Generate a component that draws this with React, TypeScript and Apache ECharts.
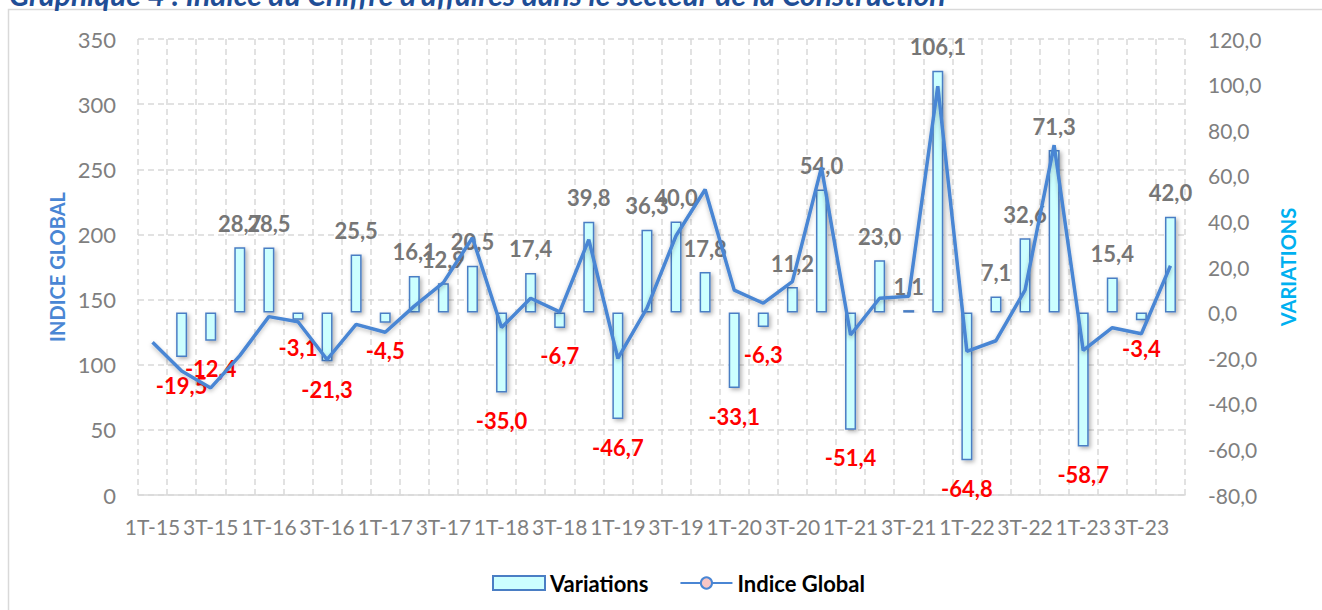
import React, { useEffect, useRef } from "react";
import * as echarts from "echarts";

const categories = [
  "1T-15", "2T-15", "3T-15", "4T-15",
  "1T-16", "2T-16", "3T-16", "4T-16",
  "1T-17", "2T-17", "3T-17", "4T-17",
  "1T-18", "2T-18", "3T-18", "4T-18",
  "1T-19", "2T-19", "3T-19", "4T-19",
  "1T-20", "2T-20", "3T-20", "4T-20",
  "1T-21", "2T-21", "3T-21", "4T-21",
  "1T-22", "2T-22", "3T-22", "4T-22",
  "1T-23", "2T-23", "3T-23", "4T-23",
];

const variations: (number | null)[] = [
  null, -19.5, -12.4, 28.7, 28.5, -3.1, -21.3, 25.5, -4.5, 16.1, 12.9, 20.5,
  -35.0, 17.4, -6.7, 39.8, -46.7, 36.3, 40.0, 17.8, -33.1, -6.3, 11.2, 54.0,
  -51.4, 23.0, 1.1, 106.1, -64.8, 7.1, 32.6, 71.3, -58.7, 15.4, -3.4, 42.0,
];

const indiceGlobal = [
  117.2, 95.2, 82.2, 107.0, 136.9, 133.0, 104.0, 131.0, 124.9, 145.0, 163.0, 197.5,
  128.5, 151.0, 140.6, 196.0, 104.8, 143.5, 199.0, 234.5, 157.3, 147.2, 163.8, 251.5,
  122.8, 151.0, 152.6, 313.8, 110.3, 118.4, 157.3, 268.5, 111.0, 128.4, 123.8, 176.0,
];

const FONT = "Lato, 'Liberation Sans', sans-serif";
const fmt = (v: number) => v.toFixed(1).replace(".", ",");

export default function App() {
  const ref = useRef<HTMLDivElement>(null);

  useEffect(() => {
    if (!ref.current) return;
    const chart = echarts.init(ref.current, null, { renderer: "svg" });

    const barData = variations.map((v) =>
      v === null
        ? "-"
        : {
            value: v,
            label: {
              position: v < 0 ? "bottom" : "top",
              distance: v < 0 ? 17 : 13,
              color: v < 0 ? "#FF0000" : "#767676",
            },
          }
    );

    chart.setOption({
      animation: false,
      backgroundColor: "#ffffff",
      textStyle: { fontFamily: FONT },
      graphic: [
        {
          type: "rect",
          z: -10,
          shape: { x: 8.5, y: 9.5, width: 1400, height: 700 },
          style: { fill: "none", stroke: "#D9D9D9", lineWidth: 1.5 },
        },
        {
          type: "text",
          x: 9,
          y: 9,
          style: {
            text: "Graphique 4 : Indice du Chiffre d'affaires dans le secteur de la Construction",
            fill: "#1F4E96",
            font: "italic bold 30px " + FONT,
            verticalAlign: "bottom",
          },
        },
      ],
      grid: { left: 138, right: 137, top: 39, bottom: 115, containLabel: false },
      legend: {
        left: 487,
        top: 567,
        itemWidth: 52,
        itemHeight: 14,
        itemGap: 31,
        textStyle: { color: "#000000", fontWeight: "bold", fontSize: 22, fontFamily: FONT },
        data: [{ name: "Variations", icon: "rect" }, { name: "Indice Global" }],
      },
      xAxis: {
        type: "category",
        data: categories,
        boundaryGap: true,
        axisTick: { show: false },
        axisLine: { show: true, lineStyle: { color: "#D9D9D9", width: 1.5 } },
        axisLabel: { interval: 1, color: "#7F7F7F", fontSize: 21, margin: 21, fontFamily: FONT },
        splitLine: {
          show: true,
          interval: 0,
          lineStyle: { color: "#D9D9D9", type: [6, 4], width: 1.5 },
        },
      },
      yAxis: [
        {
          type: "value",
          min: 0,
          max: 350,
          interval: 50,
          name: "INDICE GLOBAL",
          nameLocation: "middle",
          nameRotate: 90,
          nameGap: 68,
          nameTextStyle: { color: "#4A86D4", fontWeight: "bold", fontSize: 20, fontFamily: FONT },
          axisLine: { show: false },
          axisTick: { show: false },
          axisLabel: { color: "#7F7F7F", fontSize: 22, margin: 22, fontFamily: FONT },
          splitLine: { show: true, lineStyle: { color: "#D9D9D9", type: [6, 4], width: 1.5 } },
        },
        {
          type: "value",
          min: -80,
          max: 120,
          interval: 20,
          position: "right",
          name: "VARIATIONS",
          nameLocation: "middle",
          nameRotate: 90,
          nameGap: 93,
          nameTextStyle: { color: "#00B0F0", fontWeight: "bold", fontSize: 20, fontFamily: FONT },
          axisLine: { show: false },
          axisTick: { show: false },
          axisLabel: {
            color: "#7F7F7F",
            fontSize: 21,
            margin: 23,
            fontFamily: FONT,
            formatter: (v: number) => fmt(v),
          },
          splitLine: { show: false },
        },
      ],
      series: [
        {
          name: "Variations",
          type: "bar",
          yAxisIndex: 1,
          barWidth: 11,
          data: barData,
          itemStyle: {
            color: "#CCFFFF",
            borderColor: "#4A7EC4",
            borderWidth: 1.5,
            shadowColor: "rgba(0,0,0,0.3)",
            shadowBlur: 4,
            shadowOffsetX: 2,
            shadowOffsetY: 2,
          },
          label: {
            show: true,
            fontSize: 22,
            fontWeight: "bold",
            fontFamily: FONT,
            formatter: (p: any) => fmt(Number(p.value)),
          },
          z: 2,
        },
        {
          name: "Indice Global",
          type: "line",
          yAxisIndex: 0,
          data: indiceGlobal,
          showSymbol: false,
          symbol: "circle",
          symbolSize: 9,
          itemStyle: { color: "#F8C6C6", borderColor: "#4A86D4", borderWidth: 2 },
          lineStyle: {
            color: "#4A86D4",
            width: 3.5,
            shadowColor: "rgba(0,0,0,0.25)",
            shadowBlur: 4,
            shadowOffsetY: 2,
          },
          z: 3,
        },
      ],
    });

    return () => chart.dispose();
  }, []);

  return (
    <div
      ref={ref}
      style={{ position: "fixed", left: 0, top: 0, width: 1322, height: 610 }}
    />
  );
}
